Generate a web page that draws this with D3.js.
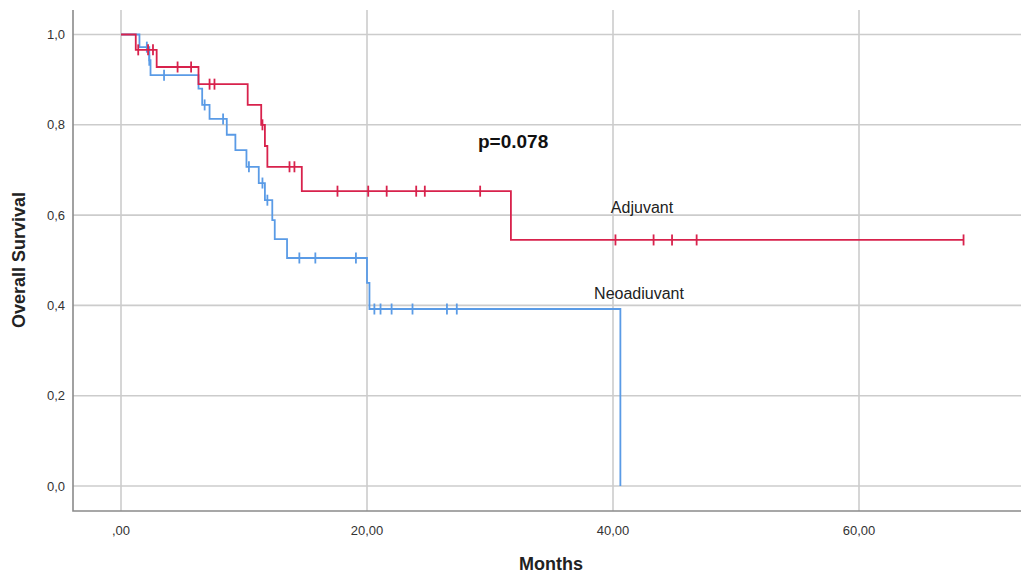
<!DOCTYPE html>
<html>
<head>
<meta charset="utf-8">
<script src="https://cdn.jsdelivr.net/npm/d3@7"></script>
<style>
  body { margin: 0; background: #fff; }
  svg { display: block; font-family: "Liberation Sans", Arial, sans-serif; }
  .grid line { stroke: #cccccc; stroke-width: 1.6; }
  .tick-label { fill: #333; font-size: 13px; }
</style>
</head>
<body>
<svg id="km-chart" width="1021" height="576"></svg>
<script>
// x ticks (months) and y ticks (survival)
const xTicks = [0, 20, 40, 60];
const xTickLabels = [',00', '20,00', '40,00', '60,00'];
const yTicks = [0, 0.2, 0.4, 0.6, 0.8, 1.0];
const yTickLabels = ['0,0', '0,2', '0,4', '0,6', '0,8', '1,0'];

// Adjuvant: step times and survival after each step
const adjTimes = [0, 1.2, 2.9, 6.3, 10.3, 11.4, 11.7, 11.9, 14.7, 31.7, 68.5];
const adjSurv = [1.0, 0.966, 0.928, 0.890, 0.844, 0.800, 0.753, 0.707, 0.653, 0.545, 0.545];
const adjCensorTimes = [1.4, 2.2, 2.6, 4.6, 5.7, 7.2, 7.6, 11.5, 13.7, 14.1, 17.6, 20.1, 21.6, 24.0, 24.7, 29.2, 40.2, 43.3, 44.8, 46.8, 68.5];
const adjCensorSurv = [0.966, 0.966, 0.966, 0.928, 0.928, 0.890, 0.890, 0.800, 0.707, 0.707, 0.653, 0.653, 0.653, 0.653, 0.653, 0.653, 0.545, 0.545, 0.545, 0.545, 0.545];

// Neoadjuvant
const neoTimes = [0, 1.5, 2.3, 2.4, 6.3, 6.6, 7.2, 8.6, 9.3, 10.2, 11.2, 11.7, 12.3, 12.5, 13.5, 20.0, 20.2, 40.6];
const neoSurv = [1.0, 0.972, 0.943, 0.910, 0.880, 0.844, 0.813, 0.778, 0.744, 0.707, 0.671, 0.633, 0.589, 0.547, 0.505, 0.450, 0.392, 0.0];
const neoCensorTimes = [2.1, 2.3, 3.5, 6.8, 8.3, 10.4, 11.5, 11.9, 14.5, 15.8, 19.1, 20.6, 21.1, 22.0, 23.7, 26.5, 27.3];
const neoCensorSurv = [0.972, 0.943, 0.910, 0.844, 0.813, 0.707, 0.671, 0.633, 0.505, 0.505, 0.505, 0.392, 0.392, 0.392, 0.392, 0.392, 0.392];

const svg = d3.select('#km-chart');
const frame = { left: 73, top: 10, right: 1021, bottom: 511 };

const x = d3.scaleLinear().domain([0, 60]).range([121, 859]);
const y = d3.scaleLinear().domain([0, 1]).range([486, 34.5]);

// grid
const grid = svg.append('g').attr('class', 'grid');
grid.selectAll('.hg').data(yTicks).join('line')
    .attr('x1', frame.left).attr('x2', frame.right)
    .attr('y1', d => y(d)).attr('y2', d => y(d));
grid.selectAll('.vg').data(xTicks).join('line')
    .attr('x1', d => x(d)).attr('x2', d => x(d))
    .attr('y1', frame.top).attr('y2', frame.bottom);

// axis frame
svg.append('path')
    .attr('d', `M${frame.left},${frame.top}V${frame.bottom}H${frame.right}`)
    .attr('fill', 'none').attr('stroke', '#8a8a8a').attr('stroke-width', 1.6);

// tick labels
svg.selectAll('.ylab').data(yTicks).join('text')
    .attr('class', 'tick-label')
    .attr('x', 65).attr('y', d => y(d) + 4.5)
    .attr('text-anchor', 'end')
    .text((d, i) => yTickLabels[i]);
svg.selectAll('.xlab').data(xTicks).join('text')
    .attr('class', 'tick-label')
    .attr('x', d => x(d)).attr('y', 535)
    .attr('text-anchor', 'middle')
    .text((d, i) => xTickLabels[i]);

// axis titles
svg.append('text')
    .attr('transform', `translate(25, ${260}) rotate(-90)`)
    .attr('text-anchor', 'middle')
    .attr('font-size', 18).attr('font-weight', 'bold').attr('fill', '#222')
    .text('Overall Survival');
svg.append('text')
    .attr('x', 551).attr('y', 570)
    .attr('text-anchor', 'middle')
    .attr('font-size', 18).attr('font-weight', 'bold').attr('fill', '#222')
    .text('Months');

// curves
const line = d3.line().curve(d3.curveStepAfter)
    .x(d => x(d[0])).y(d => y(d[1]));

function drawSeries(times, surv, cTimes, cSurv, color) {
    const pts = times.map((t, i) => [t, surv[i]]);
    svg.append('path')
        .attr('d', line(pts))
        .attr('fill', 'none')
        .attr('stroke', color)
        .attr('stroke-width', 1.8);
    svg.append('g').selectAll('line')
        .data(cTimes.map((t, i) => [t, cSurv[i]]))
        .join('line')
        .attr('x1', d => x(d[0])).attr('x2', d => x(d[0]))
        .attr('y1', d => y(d[1]) - 5.5).attr('y2', d => y(d[1]) + 5.5)
        .attr('stroke', color)
        .attr('stroke-width', 1.8);
}

drawSeries(neoTimes, neoSurv, neoCensorTimes, neoCensorSurv, '#5a9be6');
drawSeries(adjTimes, adjSurv, adjCensorTimes, adjCensorSurv, '#d8224c');

// annotations
svg.append('text')
    .attr('x', 478).attr('y', 148)
    .attr('font-size', 19).attr('font-weight', 'bold').attr('fill', '#111')
    .text('p=0.078');
svg.append('text')
    .attr('x', 642).attr('y', 213)
    .attr('text-anchor', 'middle')
    .attr('font-size', 16).attr('fill', '#222')
    .text('Adjuvant');
svg.append('text')
    .attr('x', 639).attr('y', 299)
    .attr('text-anchor', 'middle')
    .attr('font-size', 16).attr('fill', '#222')
    .text('Neoadiuvant');
</script>
</body>
</html>
